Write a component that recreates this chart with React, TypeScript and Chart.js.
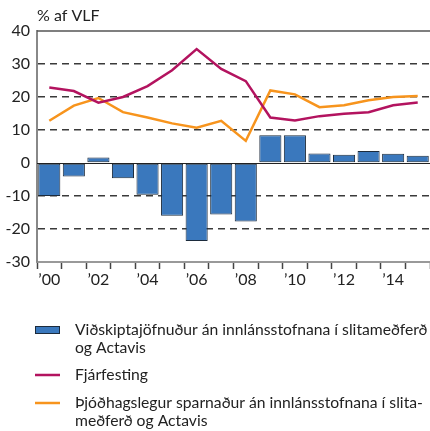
import React, { useEffect, useRef } from "react";
import { Chart, registerables } from "chart.js";

Chart.register(...registerables);

const years = ["2000","2001","2002","2003","2004","2005","2006","2007","2008","2009","2010","2011","2012","2013","2014","2015"];
const xTickLabels = ["’00","","’02","","’04","","’06","","’08","","’10","","’12","","’14",""];
const currentAccount = [-10, -4.1, 1.7, -4.6, -9.6, -16, -23.6, -15.6, -17.7, 8.4, 8.4, 2.9, 2.5, 3.6, 2.8, 2.2];
const investment = [22.9, 21.8, 18.3, 20, 23.3, 28.1, 34.5, 28.5, 24.8, 13.8, 12.9, 14.2, 14.9, 15.4, 17.5, 18.3];
const savings = [12.8, 17.4, 19.7, 15.4, 13.8, 12, 10.7, 12.8, 6.7, 22, 20.8, 16.9, 17.5, 19, 20, 20.3];
const yTicks = [40, 30, 20, 10, 0, -10, -20, -30];

const legendLabels = [
  ["Viðskiptajöfnuður án innlánsstofnana í slitameðferð", "og Actavis"],
  ["Fjárfesting"],
  ["Þjóðhagslegur sparnaður án innlánsstofnana í slita-", "meðferð og Actavis"],
];

const FONT = "Lato, 'Open Sans', sans-serif";
const BLUE = "#3a78bd";
const PURPLE = "#b3135f";
const ORANGE = "#f7941d";

export default function App() {
  const ref = useRef<HTMLCanvasElement | null>(null);

  useEffect(() => {
    document.body.style.margin = "0";
    if (!ref.current) return;
    const decor = {
      id: "decor",
      beforeDatasetsDraw(chart: any) {
        const { ctx, chartArea, scales } = chart;
        const y0 = scales.y.getPixelForValue(0);
        ctx.save();
        ctx.strokeStyle = "#222";
        ctx.lineWidth = 1;
        ctx.beginPath();
        ctx.moveTo(chartArea.left, Math.round(y0) + 0.5);
        ctx.lineTo(chartArea.right, Math.round(y0) + 0.5);
        ctx.stroke();
        ctx.restore();
      },
      afterDraw(chart: any) {
        const { ctx, chartArea } = chart;
        ctx.save();
        ctx.strokeStyle = "#555";
        ctx.lineWidth = 1.5;
        ctx.beginPath();
        ctx.moveTo(chartArea.left, chartArea.top);
        ctx.lineTo(chartArea.right, chartArea.top);
        ctx.stroke();
        ctx.fillStyle = "#222";
        ctx.font = `16px ${FONT}`;
        ctx.textBaseline = "middle";
        ctx.textAlign = "left";
        ctx.fillText("% af VLF", chartArea.left, 16);

        // legend
        const symX = 35;
        const textX = 75;
        const lineH = 18;
        const entryStarts = [330, 375, 403];
        legendLabels.forEach((lines, i) => {
          const y = entryStarts[i];
          if (i === 0) {
            ctx.fillStyle = BLUE;
            ctx.fillRect(symX, y - 4, 25, 8);
            ctx.strokeStyle = "#1c2b3c";
            ctx.lineWidth = 1;
            ctx.strokeRect(symX + 0.5, y - 3.5, 24, 7);
          } else {
            ctx.strokeStyle = i === 1 ? PURPLE : ORANGE;
            ctx.lineWidth = 2.5;
            ctx.beginPath();
            ctx.moveTo(symX, y);
            ctx.lineTo(symX + 25, y);
            ctx.stroke();
          }
          ctx.fillStyle = "#222";
          ctx.font = `15.7px ${FONT}`;
          ctx.textBaseline = "middle";
          lines.forEach((l, j) => ctx.fillText(l, textX, y + j * lineH));
        });
        ctx.restore();
      },
    };

    const chart = new Chart(ref.current, {
      type: "bar",
      data: {
        labels: years,
        datasets: [
          {
            type: "line",
            label: "Fjárfesting",
            data: investment,
            borderColor: PURPLE,
            backgroundColor: PURPLE,
            borderWidth: 2.5,
            pointRadius: 0,
            tension: 0,
            order: 0,
          },
          {
            type: "line",
            label: "Sparnaður",
            data: savings,
            borderColor: ORANGE,
            backgroundColor: ORANGE,
            borderWidth: 2.5,
            pointRadius: 0,
            tension: 0,
            order: 0,
          },
          {
            type: "bar",
            label: "Viðskiptajöfnuður",
            data: currentAccount,
            backgroundColor: BLUE,
            borderColor: "#1c2b3c",
            borderWidth: 1,
            borderSkipped: false,
            categoryPercentage: 1,
            barPercentage: 0.9,
            order: 1,
          },
        ],
      },
      options: {
        animation: false,
        responsive: false,
        layout: { padding: { top: 31, right: 0, left: 0, bottom: 141 } },
        plugins: {
          legend: { display: false },
          tooltip: { enabled: false },
          title: { display: false },
        },
        scales: {
          x: {
            offset: true,
            grid: {
              offset: true,
              drawOnChartArea: false,
              drawTicks: true,
              tickLength: 7,
              tickColor: "#444",
              tickWidth: 1.5,
            },
            border: { display: true, color: "#999", width: 2 },
            ticks: {
              autoSkip: false,
              maxRotation: 0,
              padding: 1,
              color: "#222",
              font: { family: FONT, size: 16 },
              callback: (_v: any, i: number) => xTickLabels[i],
            },
            afterFit: (s: any) => { s.height = 28; },
          },
          y: {
            min: -30,
            max: 40,
            afterBuildTicks: (s: any) => { s.ticks = yTicks.map((v) => ({ value: v })); },
            grid: {
              drawTicks: false,
              color: (c: any) => {
                const v = c.tick && c.tick.value;
                if (v === 40 || v === -30 || v === 0) return "rgba(0,0,0,0)";
                return "#3a3a3a";
              },
              lineWidth: 1.4,
            },
            border: { display: true, color: "#888", width: 2, dash: [7, 5] as any },
            ticks: {
              padding: 7,
              color: "#222",
              font: { family: FONT, size: 16 },
            },
            afterFit: (s: any) => { s.width = 37; },
          },
        },
      },
      plugins: [decor],
    } as any);
    return () => chart.destroy();
  }, []);

  return (
    <div style={{ width: 430, height: 431 }}>
      <canvas ref={ref} width={430} height={431} style={{ display: "block" }} />
    </div>
  );
}
